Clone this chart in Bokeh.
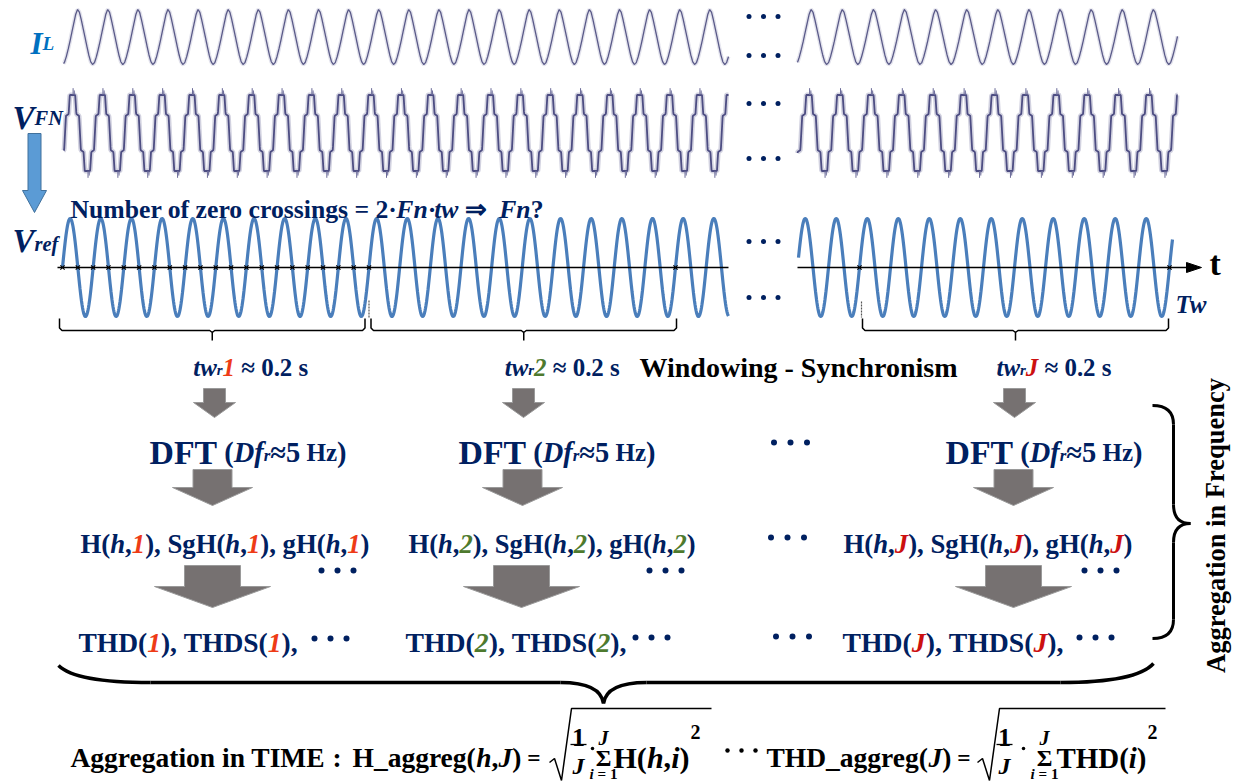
import numpy as np
from bokeh.plotting import figure
from bokeh.models import Range1d, ColumnDataSource
from bokeh.embed import file_html
from bokeh.resources import INLINE
from bokeh.core.properties import value, field

# ---------------- data ----------------
# one cycle of the load current I_L (normalised, 16 samples starting at a trough)
IL_CYCLE = [-1.0, -0.93, -0.72, -0.45, -0.15, 0.18, 0.50, 0.82, 1.0, 0.90, 0.62, 0.30, -0.02, -0.35, -0.66, -0.90]
# one cycle of the stepped phase voltage V_FN (phase, normalised level), starting at a top plateau
VFN_PHASE = [0.00, 0.09, 0.13, 0.22, 0.25, 0.28, 0.37, 0.41, 0.59, 0.63, 0.72, 0.75, 0.78, 0.87, 0.91, 1.00]
VFN_LEVEL = [1.00, 1.00, 0.50, 0.45, 0.00, -0.45, -0.50, -1.00, -1.00, -0.50, -0.45, 0.00, 0.45, 0.50, 1.00, 1.00]
# switching spikes on the V_FN plateaus (phase within a cycle, normalised peak level)
VFN_SPIKE_PHASE = [0.02, 0.06, 0.52, 0.56]
VFN_SPIKE_LEVEL = [1.18, 1.12, -1.18, -1.12]
CYCLES_PER_WINDOW = 10          # 0.2 s window at 50 Hz
WINDOW_IDS = ["1", "2", "J"]
WINDOW_ID_COLORS = ["#EE3B16", "#4E7A2E", "#CC1010"]
TW_SECONDS = "0.2"
DF_HZ = "5"

NAVY = "#002060"
BLACK = "#000000"
IL_BLUE = "#0070C0"
REF_BLUE = "#4A7EBB"
ARROW_GRAY = "#767171"

# ---------------- text measuring (Times / Liberation Serif metrics, per 1000 em) ----------------
_B = dict(zip("ABCDEFGHIJKLMNOPQRSTUVWXYZ",
              [722, 667, 722, 722, 667, 611, 778, 778, 389, 500, 778, 667, 944, 722, 778, 611, 778, 722, 556, 667,
               722, 722, 1000, 722, 722, 667]))
_B.update(dict(zip("abcdefghijklmnopqrstuvwxyz",
                   [500, 556, 444, 556, 444, 333, 500, 556, 278, 333, 556, 278, 833, 556, 500, 556, 556, 444, 389, 333,
                    556, 500, 722, 500, 500, 444])))
_BI = dict(zip("ABCDEFGHIJKLMNOPQRSTUVWXYZ",
               [667, 667, 667, 722, 667, 667, 722, 778, 389, 500, 667, 611, 889, 722, 722, 611, 722, 667, 556, 611,
                722, 667, 889, 667, 611, 611]))
_BI.update(dict(zip("abcdefghijklmnopqrstuvwxyz",
                    [500, 500, 444, 500, 444, 333, 500, 556, 278, 278, 500, 278, 778, 556, 500, 500, 500, 389, 389, 278,
                     556, 444, 667, 500, 444, 389])))
_PUNCT = {" ": 250, "!": 333, "(": 333, ")": 333, ",": 250, "-": 333, ".": 250, ":": 333, "=": 570, "?": 500,
          "_": 500, "\u00b7": 250, "\u2248": 549, "\u21d2": 838, "\u03a3": 600}
for d in "0123456789":
    _PUNCT[d] = 500
_B.update(_PUNCT)
_BI.update(_PUNCT)


def measure(txt, style):
    tab = _BI if "italic" in style else _B
    return sum(tab.get(c, 500) for c in txt) / 10.0   # width at 100 px


T = {k: [] for k in ("x", "y", "text", "style", "color", "size", "angle", "align")}


def put(x, y, txt, style, color, size, angle=0.0, align="left"):
    T["x"].append(x); T["y"].append(y); T["text"].append(txt)
    T["style"].append(style); T["color"].append(color)
    T["size"].append(f"{size:.2f}px"); T["angle"].append(angle); T["align"].append(align)


def P(text, style="bold", color=NAVY, rs=1.0, dy=0.0):
    return (text, style, color, rs, dy)


def rich(parts, x0, y, x1=None, size=None):
    nat = sum(measure(t, st) * rs for (t, st, c, rs, dy) in parts) / 100.0
    if x1 is not None:
        size = (x1 - x0) / nat
    x = x0
    for t, st, c, rs, dy in parts:
        s = size * rs
        lead = len(t) - len(t.lstrip(" "))
        core = t.strip(" ")
        if core:
            put(x + measure(" " * lead, st) * s / 100.0, y + dy * size, core, st, c, s)
        x += measure(t, st) * s / 100.0
    return size


BI = "bold italic"

# ---------------- figure ----------------
p = figure(width=1234, height=782, x_range=Range1d(0, 1234), y_range=Range1d(782, 0),
           output_backend="svg", toolbar_location=None, min_border=0)
p.axis.visible = False
p.grid.visible = False
p.outline_line_color = None
p.background_fill_color = "white"


def tile(x0, x1, xref, period, phases, levels, step=0.25):
    x = np.arange(x0, x1 + 1e-9, step)
    ph = ((x - xref) / period) % 1.0
    return x, np.interp(ph, phases, levels)


il_ph = np.linspace(0, 1, len(IL_CYCLE) + 1)
il_lv = IL_CYCLE + [IL_CYCLE[0]]

# I_L traces (left block, right block)
for (x0, x1, xref, per) in [(63, 728, 62, 30.1), (797, 1177, 795, 31.1)]:
    x, lv = tile(x0, x1, xref, per, il_ph, il_lv)
    y = 36.5 - 27.5 * lv
    p.line(x, y, line_color="#cfcfdf", line_width=4, line_alpha=0.6)
    p.line(x, y, line_color="#5a5a88", line_width=1.3)

# V_FN traces
VFN_C, VFN_A = 132.5, 38
for (x0, x1, xref, per) in [(63, 728, 72, 29.85), (797, 1177, 808.5, 30.9)]:
    x, lv = tile(x0, x1, xref, per, VFN_PHASE, VFN_LEVEL)
    y = VFN_C - VFN_A * lv
    p.line(x, y, line_color="#b4b4cc", line_width=5, line_alpha=0.6)
    p.line(x, y, line_color="#4d4d82", line_width=1.8)
    sx0, sy0, sy1 = [], [], []
    k0 = int(np.floor((x0 - xref) / per)) - 1
    k1 = int(np.ceil((x1 - xref) / per)) + 1
    for k in range(k0, k1):
        for ph, lv_s in zip(VFN_SPIKE_PHASE, VFN_SPIKE_LEVEL):
            xs = xref + (k + ph) * per
            if x0 <= xs <= x1:
                sx0.append(xs)
                sy0.append(VFN_C - VFN_A * np.sign(lv_s))
                sy1.append(VFN_C - VFN_A * lv_s)
    p.segment(x0=sx0, y0=sy0, x1=sx0, y1=sy1, line_color="#6a6a98", line_width=1)

# V_ref traces
REF_Y, REF_A = 267, 49
ref_blocks = [(62, 728, 62, 30.65), (798, 1172, 859, 31.0)]
for (x0, x1, xref, per) in ref_blocks:
    x = np.arange(x0, x1 + 1e-9, 0.5)
    y = REF_Y - REF_A * np.sin(2 * np.pi * (x - xref) / per)
    p.line(x, y, line_color=REF_BLUE, line_width=3.2)

# time axis
p.segment(x0=[57, 797], y0=[REF_Y, REF_Y], x1=[728, 1190], y1=[REF_Y, REF_Y], line_color=BLACK, line_width=1.6)
p.patch([1186, 1201, 1186], [262, REF_Y, 272], fill_color=BLACK, line_color=BLACK)

# zero-crossing markers
per_l = ref_blocks[0][3]
w_left = [62 + k * per_l / 2 for k in range(2 * CYCLES_PER_WINDOW + 1)]
w2_end = 62 + 2 * CYCLES_PER_WINDOW * per_l
wJ0 = ref_blocks[1][2]
wJ1 = wJ0 + CYCLES_PER_WINDOW * ref_blocks[1][3]
mx = w_left + [w2_end, wJ0, wJ1]
p.scatter(mx, [REF_Y] * len(mx), marker="x", size=6, line_color=BLACK, line_width=1.1)

# dashed window boundaries
p.segment(x0=[w_left[-1], wJ0 + 2], y0=[300, 301], x1=[w_left[-1], wJ0 + 2], y1=[317, 317],
          line_color="#555555", line_width=1.2, line_dash="2 1")

# window braces (square style)
windows = [(59, w_left[-1] - 4), (w_left[-1] + 2, w2_end + 1), (wJ0 + 3, wJ1 - 1)]
bx, by = [], []
for a, b in windows:
    c = (a + b) / 2
    bx.append([a, a, a + 2.5, c - 2.5, c, c, c, c + 2.5, b - 2.5, b, b])
    by.append([318, 327.5, 330, 330, 332, 340, 332, 330, 330, 327.5, 318])
p.multi_line(bx, by, line_color=BLACK, line_width=1.5)
centers = [(a + b) / 2 for a, b in windows]

# window labels
for i, c in enumerate(centers):
    x0 = c - 19
    rich([P("tw", BI), P("r", BI, NAVY, 0.6, 0.12), P(WINDOW_IDS[i], BI, WINDOW_ID_COLORS[i]),
          P(" \u2248"), P(" " + TW_SECONDS), P(" s")], x0, 367, x1=x0 + 115)
rich([P("Windowing - Synchronism", "bold", BLACK)], 639, 367, x1=958)

# side labels
rich([P("I", BI, IL_BLUE), P("L", BI, IL_BLUE, 0.62)], 30, 43, size=31)
rich([P("V", BI), P("FN", BI, NAVY, 0.62)], 12, 117, size=33)
rich([P("V", BI), P("ref", BI, NAVY, 0.62, 0.1)], 12, 240, size=33)
rich([P("Tw", BI)], 1175, 304, x1=1207)
rich([P("t", "bold", BLACK)], 1209, 263, size=34)
rich([P("Number of zero crossings = 2\u00b7"), P("Fn", BI), P("\u00b7"), P("tw", BI),
      P(" \u21d2"), P("  "), P("Fn", BI), P("?")], 70, 209, x1=543)

# blue arrow V_FN -> V_ref
p.patch([27.5, 40.5, 40.5, 46, 34, 22, 27.5, 27.5], [133, 133, 190, 190, 212, 190, 190, 133],
        fill_color="#5B9BD5", line_color="#41719C", line_width=1)

# gray block arrows: (top, shoulder, tip, body half width, head half width, centres)
arrow_rows = [(388, 402, 417, 11, 21, [214, 523, 1014]),
              (469, 487, 505, 19.5, 40, [212, 522, 1013]),
              (565, 586, 607, 28, 58, [212, 521, 1013])]
axs, ays = [], []
for top, sh, tip, bw, hw, cs in arrow_rows:
    for c in cs:
        axs.append([c - bw, c + bw, c + bw, c + hw, c, c - hw, c - bw])
        ays.append([top, top, sh, sh, tip, sh, sh])
p.patches(axs, ays, fill_color=ARROW_GRAY, line_color="#9a9a9a", line_width=1)

# DFT row
for (x0, x1) in [(149, 346), (458, 655), (945, 1142)]:
    rich([P("DFT"), P(" (", rs=0.84), P("Df", BI, NAVY, 0.84), P("r", BI, NAVY, 0.5, 0.1),
          P("\u2248" + DF_HZ, rs=0.84), P(" Hz", rs=0.74), P(")", rs=0.84)], x0, 452, x1=x1)

# harmonic row
for i, (x0, x1) in enumerate([(80, 369), (408, 695), (843, 1132)]):
    w, col = WINDOW_IDS[i], WINDOW_ID_COLORS[i]
    rich([P("H("), P("h", BI), P(","), P(w, BI, col), P("),"), P(" SgH("), P("h", BI), P(","), P(w, BI, col),
          P("),"), P(" gH("), P("h", BI), P(","), P(w, BI, col), P(")")], x0, 543, x1=x1)

# THD row
for i, (x0, x1) in enumerate([(78, 297), (405, 626), (842, 1063)]):
    w, col = WINDOW_IDS[i], WINDOW_ID_COLORS[i]
    rich([P("THD("), P(w, BI, col), P("),"), P(" THDS("), P(w, BI, col), P("),")], x0, 642, x1=x1)

# ellipsis dots: (centre x, centre y, spacing, size, colour)
dot_groups = [(763, 16, 14.5, 5, NAVY), (763, 55, 14.5, 5, NAVY), (763, 103, 14.5, 5, NAVY),
              (763, 158, 14.5, 5, NAVY), (763, 241, 14.5, 5, NAVY), (763, 297, 14.5, 5, NAVY),
              (790, 442, 16.5, 6, NAVY), (787, 537, 16.5, 6, NAVY), (792, 636, 16.5, 6, NAVY),
              (337, 570, 16, 6, NAVY), (665, 570, 16, 6, NAVY), (1100, 570, 16, 6, NAVY),
              (330, 638, 16, 6, NAVY), (651, 637, 16, 6, NAVY), (1095, 637, 16, 6, NAVY),
              (741, 750, 14, 4.5, BLACK)]
dx, dyy, ds, dc = [], [], [], []
for cx, cy, sp, sz, col in dot_groups:
    for k in (-1, 0, 1):
        dx.append(cx + k * sp); dyy.append(cy); ds.append(sz); dc.append(col)
p.scatter(dx, dyy, size=ds, fill_color=dc, line_color=None)

# right curly brace (aggregation in frequency)
p.quadratic(x0=[1152, 1173, 1190, 1173], y0=[405, 504, 523, 619],
            x1=[1173, 1190, 1173, 1152], y1=[424, 523, 542, 638],
            cx=[1173, 1173, 1173, 1173], cy=[405, 523, 523, 638], line_color=BLACK, line_width=3)
p.segment(x0=[1173, 1173], y0=[424, 542], x1=[1173, 1173], y1=[504, 619], line_color=BLACK, line_width=3)

# bottom curly brace (aggregation in time)
p.quadratic(x0=[58, 560, 603, 1060], y0=[665, 682, 703, 682], x1=[150, 603, 646, 1153], y1=[682, 703, 682, 663],
            cx=[75, 600, 606, 1136], cy=[682, 682, 682, 682], line_color=BLACK, line_width=3.5)
p.segment(x0=[150, 646], y0=[682, 682], x1=[560, 1060], y1=[682, 682], line_color=BLACK, line_width=3.5)

# rotated label
agg_txt = "Aggregation in Frequency"
agg_size = 296 / (measure(agg_txt, "bold") / 100.0)
put(1215, 525, agg_txt, "bold", BLACK, agg_size, angle=np.pi / 2, align="center")

# bottom formula
FS = 27.5
rich([P("Aggregation in TIME", "bold", BLACK), P(" :", "bold", BLACK)], 70, 757, size=FS)
rich([P("H_aggreg(", "bold", BLACK), P("h", BI, BLACK), P(",", "bold", BLACK), P("J", BI, BLACK),
      P(")", "bold", BLACK), P(" =", "bold", BLACK, 0.85)], 352, 757, size=FS)
rich([P("THD_aggreg(", "bold", BLACK), P("J", BI, BLACK), P(")", "bold", BLACK),
      P(" =", "bold", BLACK, 0.85)], 766, 757, size=FS)

# (radical start, fraction centre, dot x, sigma centre, term start, term end, bar end)
formula_layout = [(549, 578, 592, 603, 613, 689, 711, "H"),
                  (977, 1004, 1023, 1044, 1056, 1146, 1165, "THD")]
for (r0, fx, dotx, sx, tx0, tx1, rend, term) in formula_layout:
    # radical
    p.line([r0, r0 + 5, r0 + 12, r0 + 22, rend], [762, 758, 780, 708, 708], line_color=BLACK, line_width=1.5)
    # fraction 1/J
    put(fx, 737, "1", "bold", BLACK, 26, align="center")
    put(fx, 765, "J", BI, BLACK, 24, align="center")
    p.segment(x0=[fx - 8], y0=[744], x1=[fx + 8], y1=[744], line_color=BLACK, line_width=1.3)
    p.scatter([dotx], [748], size=3.5, fill_color=BLACK, line_color=None)
    # sum sign with limits
    put(sx, 757, "\u03a3", "bold", BLACK, 24, align="center")
    put(sx, 737, "J", BI, BLACK, 20, align="center")
    rich([P("i", BI, BLACK), P(" =", "bold", BLACK), P(" 1", "bold", BLACK)], sx - 14, 773, x1=sx + 14)
    if term == "H":
        parts = [P("H(", "bold", BLACK), P("h", BI, BLACK), P(",", "bold", BLACK), P("i", BI, BLACK),
                 P(")", "bold", BLACK)]
    else:
        parts = [P("THD(", "bold", BLACK), P("i", BI, BLACK), P(")", "bold", BLACK)]
    rich(parts, tx0, 757, x1=tx1)
    put(tx1 + 1, 731, "2", "bold", BLACK, 20)

# draw all texts
src = ColumnDataSource(T)
p.text(x="x", y="y", text="text", source=src, text_font=value("Liberation Serif"),
       text_font_style=field("style"), text_color=field("color"), text_font_size=field("size"),
       angle=field("angle"), text_align=field("align"), text_baseline="alphabetic")

open("out.html", "w").write(file_html(p, INLINE))
